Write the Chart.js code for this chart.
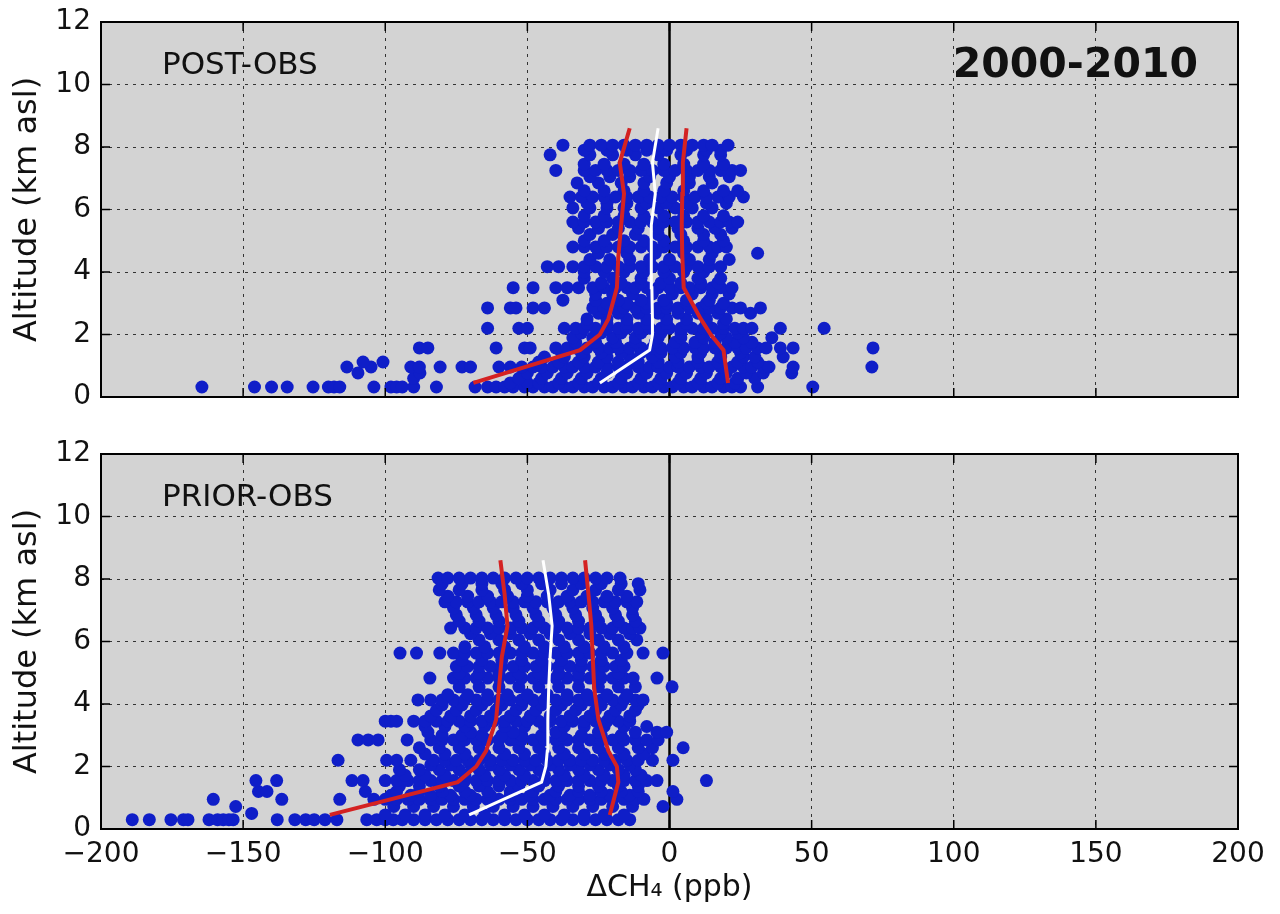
<!DOCTYPE html>
<html>
<head>
<meta charset="utf-8">
<script src="https://cdn.jsdelivr.net/npm/chart.js@4.4.0/dist/chart.umd.min.js"></script>
<style>
  body { margin: 0; background: #fff; }
  #wrap { position: relative; width: 1280px; height: 914px; }
  #wrap canvas { position: absolute; left: 0; }
  #top { top: 0; width: 1280px; height: 420px; }
  #bottom { top: 432px; width: 1280px; height: 482px; }
</style>
</head>
<body>
<div id="wrap">
  <canvas id="top" width="1280" height="420"></canvas>
  <canvas id="bottom" width="1280" height="482"></canvas>
</div>
<script>
// axis ticks
const xTicks = [-200, -150, -100, -50, 0, 50, 100, 150, 200];
const yTicks = [0, 2, 4, 6, 8, 10, 12];

// POST-OBS scatter: one row of x values (ppb) per altitude level (km)
const postLevels = [0.32, 0.45, 0.6, 0.77, 0.96, 1.12, 1.28, 1.42, 1.57, 1.75, 1.9, 2.05, 2.2, 2.35, 2.5, 2.68, 2.85, 3.0, 3.1, 3.3, 3.5, 3.65, 3.8, 4.0, 4.17, 4.4, 4.6, 4.8, 5.0, 5.2, 5.4, 5.6, 5.8, 6.05, 6.2, 6.4, 6.6, 6.85, 7.05, 7.25, 7.45, 7.75, 7.9, 8.06];
const postX = [
  [-164.5, -146, -140, -134.5, -125.4, -120, -118, -116, -104, -98, -96, -94, -90, -82, -68.4, -64, -61, -58, -55, -51, -48, -44, -41, -37, -34, -30, -27, -23, -20, -16, -13, -9, -6, -2, 1, 5, 8, 12, 15, 19, 22, 25, 31, 50.4],
  [-56, -50, -46, -39, -32, -25, -18, -11, -4, 3, 10, 17, 23],
  [-90, -53, -45, -38, -31, -24, -17, -10, -3, 4, 11, 18, 24, 30],
  [-109.6, -87.8, -50, -43, -36, -29, -22, -15, -8, -1, 6, 13, 20, 27, 33, 43],
  [-113.5, -105, -91, -88, -80.7, -73, -70, -60, -56, -52, -48, -45, -41, -37, -34, -30, -26, -22, -18, -15, -11, -7, -4, 0, 3, 7, 11, 14, 18, 22, 26, 29, 33, 35, 43.5, 71.2],
  [-107.8, -100.8, -46, -39, -32, -25, -18, -11, -4, 3, 10, 17, 24, 31],
  [-44, -37, -30, -22, -14, -6, 2, 10, 18, 26, 30, 40],
  [-38, -31, -24, -17, -10, -3, 4, 11, 18, 25],
  [-88, -85, -61, -51, -49, -40, -36, -33, -29, -25, -21, -18, -14, -10, -6, -3, 1, 5, 9, 12, 16, 20, 24, 27, 31, 34, 39, 43.5, 71.6],
  [-33, -26, -19, -12, -5, 2, 9, 16, 23, 29],
  [-34, -27, -20, -12, -4, 4, 12, 20, 26, 36],
  [-31, -24, -17, -10, -3, 4, 11, 18, 24],
  [-64, -53, -50, -37, -33, -30, -26, -22, -18, -15, -11, -7, -3, 0, 4, 8, 12, 15, 19, 23, 26, 29, 39, 54.4],
  [-29, -22, -15, -8, -1, 6, 13, 19],
  [-29, -22, -15, -8, -1, 6, 13, 20],
  [-25, -18, -11, -4, 3, 10, 17, 28.5],
  [-64, -56, -54, -48, -44, -27, -23, -19, -16, -12, -8, -4, -1, 3, 7, 11, 14, 18, 22, 25, 32],
  [-22, -15, -8, -1, 6, 13, 19],
  [-37.5, -26, -18, -10, -2, 6, 14],
  [-26, -20, -13, -6, 1, 8, 15, 21],
  [-55, -48, -40, -36, -32, -27, -23, -19, -15, -12, -8, -4, 0, 4, 7, 11, 15, 18, 22],
  [-24, -17, -10, -3, 4, 11, 17],
  [-30, -20, -10, 0, 10, 18],
  [-30, -23, -16, -9, -2, 5, 12],
  [-43, -39, -34, -30, -26, -22, -18, -14, -10, -6, -2, 2, 6, 10, 14, 18],
  [-28, -21, -14, -7, 0, 7, 14, 21],
  [-25, -15, -5, 5, 15, 31],
  [-34, -30, -26, -22, -18, -14, -10, -6, -2, 2, 6, 10, 14, 17, 20],
  [-30, -23, -16, -9, -2, 5, 12, 19],
  [-28, -20, -12, -4, 4, 12, 18],
  [-32, -25, -18, -11, -4, 3, 10, 16, 22],
  [-34, -30, -26, -22, -18, -14, -10, -6, -2, 2, 6, 10, 14, 18, 21, 24],
  [-30, -23, -16, -9, -2, 5, 12, 19],
  [-34, -28, -22, -16, -10, -4, 2, 8, 15],
  [-29, -22, -15, -8, -1, 6, 13, 20],
  [-35, -31, -27, -23, -19, -15, -11, -7, -3, 1, 5, 9, 13, 17, 21, 26],
  [-30, -23, -16, -9, -2, 5, 12, 19, 24],
  [-32.5, -25, -17, -9, -1, 7, 15],
  [-28, -21, -14, -7, 0, 7, 14, 21],
  [-40, -30, -26, -22, -18, -14, -10, -6, -2, 2, 6, 10, 14, 18, 22, 25],
  [-30, -23, -16, -9, -2, 5, 12, 19],
  [-42, -28, -20, -12, -4, 4, 12, 18],
  [-30, -22, -15, -8, -1, 6, 13, 18],
  [-37.5, -28, -24, -20, -16, -12, -8, -4, 0, 4, 8, 12, 15, 20.6]
];

// PRIOR-OBS scatter
const priorLevels = [0.3, 0.45, 0.5, 0.72, 0.95, 1.08, 1.2, 1.38, 1.55, 1.72, 1.9, 2.05, 2.2, 2.4, 2.6, 2.85, 3.0, 3.1, 3.28, 3.45, 3.62, 3.8, 3.97, 4.13, 4.3, 4.55, 4.83, 4.98, 5.2, 5.4, 5.63, 5.83, 6.05, 6.25, 6.43, 6.65, 6.85, 7.07, 7.27, 7.45, 7.65, 7.85, 8.03];
const priorX = [
  [-189, -183, -175.4, -171, -169.4, -162, -159, -157, -155, -153.5, -138, -131.8, -128, -125, -121.2, -117, -106.5, -103, -100, -97.2, -94, -90, -86, -82, -78, -74, -70, -66, -62, -58, -54, -50, -46, -42, -38, -34, -30, -26, -22, -18, -14],
  [-100, -93, -86, -79, -72, -65, -58, -51, -44, -37, -30, -23, -16],
  [-147],
  [-152.6, -97, -90, -83, -76, -69, -62, -55, -48, -41, -34, -27, -20, -13, -2.3],
  [-160.5, -136.4, -116, -104, -100, -96, -92, -88, -84, -80, -76, -72, -68, -64, -60, -56, -52, -48, -44, -40, -36, -32, -28, -24, -20, -16, -12, -9, 2.6],
  [-98, -91, -84, -77, -70, -63, -56, -49, -42, -35, -28, -21, -14],
  [-144.6, -141.6, -107, -96, -88, -80, -72, -64, -56, -48, -40, -32, -24, -17, -11, 1.2],
  [-95, -88, -81, -74, -67, -60, -53, -46, -39, -32, -25, -18, -11],
  [-145.5, -138.2, -111.7, -107.8, -100, -96, -92, -88, -84, -80, -76, -72, -68, -64, -60, -56, -52, -48, -44, -40, -36, -32, -28, -24, -20, -16, -12, -8, -4.4, 13],
  [-93, -86, -79, -72, -65, -58, -51, -44, -37, -30, -23, -16, -10],
  [-95, -88, -81, -74, -67, -60, -53, -46, -39, -32, -25, -18, -12],
  [-84, -77, -70, -63, -56, -49, -42, -35, -28, -21, -14],
  [-116.6, -99.5, -96, -91, -83, -79, -75, -71, -67, -63, -59, -55, -51, -47, -43, -39, -35, -31, -27, -23, -19, -15, -11, -6, 1.2],
  [-86, -79, -72, -65, -58, -51, -44, -37, -30, -23, -16, -9],
  [-88, -81, -74, -67, -60, -53, -46, -39, -32, -25, -18, -11, -6, 4.8],
  [-109.6, -106, -102.5, -92.3, -84, -80, -76, -72, -68, -64, -60, -56, -52, -48, -44, -40, -36, -32, -28, -24, -20, -16, -12, -8, -4],
  [-80, -73, -66, -59, -52, -45, -38, -31, -24, -17],
  [-85, -70, -55, -40, -25, -12, -4.4, -1],
  [-86, -79, -72, -65, -58, -51, -44, -37, -30, -23, -16, -8],
  [-100, -98, -96, -90, -86, -82, -78, -74, -70, -66, -62, -58, -54, -50, -46, -42, -38, -34, -30, -26, -22, -18, -14],
  [-84, -77, -70, -63, -56, -49, -42, -35, -28, -21, -14],
  [-82, -75, -68, -61, -54, -47, -40, -33, -26, -19, -12],
  [-80, -73, -66, -59, -52, -45, -38, -31, -24, -17, -11],
  [-88.5, -84, -80, -76, -72, -68, -64, -60, -56, -52, -48, -44, -40, -36, -32, -28, -24, -20, -16, -12, -9.3],
  [-78, -71, -64, -57, -50, -43, -36, -29, -22, -15],
  [-74, -67, -60, -53, -46, -39, -32, -25, -18, -12, 0.9],
  [-84.3, -76, -72, -68, -64, -60, -56, -52, -48, -44, -40, -36, -32, -28, -24, -20, -16, -12.8, -4.4],
  [-74, -67, -60, -53, -46, -39, -32, -25, -18],
  [-75, -71, -67, -63, -59, -55, -51, -47, -43, -39, -35, -31, -27, -23, -19, -16],
  [-73, -66, -59, -52, -45, -38, -31, -24, -17],
  [-94.8, -89, -80.8, -76, -72, -68, -64, -60, -56, -52, -48, -44, -40, -36, -32, -28, -24, -20, -15, -9.3, -2.3],
  [-72, -65, -58, -51, -44, -37, -30, -23, -16],
  [-67, -60, -53, -46, -39, -32, -25, -18, -11.5],
  [-70, -63, -56, -49, -42, -35, -28, -21, -14],
  [-77, -72, -68, -64, -60, -56, -52, -48, -44, -40, -36, -32, -28, -24, -20, -16, -13, -10.4],
  [-74, -67, -60, -53, -46, -39, -32, -25, -18, -12],
  [-75, -68, -61, -54, -47, -40, -33, -26, -19, -13],
  [-76, -69, -62, -55, -48, -41, -34, -27, -20, -13],
  [-79, -75, -71, -67, -63, -59, -55, -51, -47, -43, -39, -35, -31, -27, -23, -19, -15, -11.5],
  [-78, -71, -64, -57, -50, -43, -36, -29, -22, -15],
  [-81, -74, -66, -58, -50, -42, -34, -26, -18, -10.4],
  [-80, -73, -66, -59, -52, -45, -38, -31, -24, -17, -11],
  [-81.4, -78, -74, -70, -66, -62, -58, -54, -50, -46, -42, -38, -34, -30, -26, -22, -17.4]
];

// profile lines (red = spread, white = median)
const lineAlt = [0.45, 1.5, 2.0, 2.5, 3.5, 4.5, 5.5, 6.5, 7.5, 8.6];
const postLow = [-69, -31.5, -24.5, -21.5, -18.5, -18, -17, -16, -17.5, -14];
const postMed = [-24.5, -7, -6, -6, -6.2, -6.3, -6.5, -5, -6, -4];
const postHigh = [20.6, 19, 14.5, 11, 5, 4.5, 4.3, 4.5, 4.7, 6];
const priorLow = [-119.5, -74.5, -68, -64.5, -61, -60, -59, -57, -58, -59.5];
const priorMed = [-70.5, -45, -43.5, -43, -42.8, -42.5, -42, -41.3, -42.5, -44.5];
const priorHigh = [-21, -18, -18.5, -21.5, -25, -26.5, -27, -27.5, -28.5, -29.7];

// zero reference line
const zeroX = 0;
const zeroSpan = [0, 12];

const FONT = 'DejaVu Sans';

function rowsToPoints(levels, rows) {
  const pts = [];
  levels.forEach((alt, i) => rows[i].forEach(v => pts.push({ x: v, y: alt })));
  return pts;
}

function profile(xs) {
  return lineAlt.map((alt, i) => ({ x: xs[i], y: alt }));
}

function fmtTick(v) {
  return v < 0 ? '\u2212' + Math.abs(v) : String(v);
}

// grey plot area, inward ticks, frame and panel labels
const panelBox = {
  id: 'panelBox',
  beforeDraw(chart, args, opts) {
    const { ctx, chartArea: a } = chart;
    ctx.save();
    ctx.fillStyle = '#d3d3d3';
    ctx.fillRect(a.left, a.top, a.right - a.left, a.bottom - a.top);
    ctx.restore();
  },
  afterDraw(chart, args, opts) {
    const { ctx, chartArea: a, scales } = chart;
    ctx.save();
    ctx.strokeStyle = '#000';
    ctx.lineWidth = 1.5;
    ctx.beginPath();
    xTicks.forEach(v => {
      const px = scales.x.getPixelForValue(v);
      ctx.moveTo(px, a.top); ctx.lineTo(px, a.top + 9);
      ctx.moveTo(px, a.bottom); ctx.lineTo(px, a.bottom - 9);
    });
    yTicks.forEach(v => {
      const py = scales.y.getPixelForValue(v);
      ctx.moveTo(a.left, py); ctx.lineTo(a.left + 9, py);
      ctx.moveTo(a.right, py); ctx.lineTo(a.right - 9, py);
    });
    ctx.stroke();
    ctx.lineWidth = 2;
    ctx.strokeRect(a.left, a.top, a.right - a.left, a.bottom - a.top);

    ctx.fillStyle = '#111';
    ctx.textBaseline = 'middle';
    ctx.textAlign = 'left';
    ctx.font = '31px "' + FONT + '"';
    ctx.fillText(opts.label, a.left + 61, a.top + 44);
    if (opts.period) {
      ctx.font = 'bold 41px "' + FONT + '"';
      ctx.textAlign = 'right';
      ctx.fillText(opts.period, a.right - 40, a.top + 44);
    }
    ctx.restore();
  }
};

function makeDatasets(rowsPts, low, med, high) {
  const lineBase = { showLine: true, pointRadius: 0, fill: false, tension: 0 };
  return [
    Object.assign({ data: profile(low), borderColor: '#d42222', borderWidth: 4, order: 0 }, lineBase),
    Object.assign({ data: profile(med), borderColor: '#ffffff', borderWidth: 3, order: 0 }, lineBase),
    Object.assign({ data: profile(high), borderColor: '#d42222', borderWidth: 4, order: 0 }, lineBase),
    {
      data: rowsPts,
      backgroundColor: '#0f1ec8',
      borderWidth: 0,
      pointRadius: 6.5,
      order: 1
    },
    Object.assign({
      data: zeroSpan.map(y => ({ x: zeroX, y: y })),
      borderColor: '#000',
      borderWidth: 2.5,
      order: 2
    }, lineBase)
  ];
}

function makeChart(id, opts) {
  const gridOpts = { color: '#333', lineWidth: 1, drawTicks: false };
  const borderOpts = { display: false, dash: [3, 5] };
  return new Chart(document.getElementById(id), {
    type: 'scatter',
    data: { datasets: opts.datasets },
    options: {
      responsive: false,
      animation: false,
      devicePixelRatio: 1,
      layout: { padding: { top: 22, right: 42, bottom: 0, left: 0 } },
      plugins: {
        legend: { display: false },
        tooltip: { enabled: false },
        panelBox: { label: opts.label, period: opts.period }
      },
      scales: {
        x: {
          type: 'linear',
          min: -200,
          max: 200,
          afterBuildTicks: s => { s.ticks = xTicks.map(v => ({ value: v })); },
          ticks: {
            display: opts.showX,
            font: { family: FONT, size: 28 },
            color: '#111',
            padding: 9,
            maxRotation: 0,
            callback: fmtTick
          },
          title: {
            display: opts.showX,
            text: '\u0394CH\u2084 (ppb)',
            font: { family: FONT, size: 30 },
            color: '#111',
            padding: { top: 0, bottom: 8 }
          },
          grid: gridOpts,
          border: borderOpts,
          afterFit: s => {
            s.height = opts.xHeight;
            s.paddingLeft = 0;
            s.paddingRight = 0;
          }
        },
        y: {
          type: 'linear',
          min: 0,
          max: 12,
          afterBuildTicks: s => { s.ticks = yTicks.map(v => ({ value: v })); },
          ticks: {
            font: { family: FONT, size: 28 },
            color: '#111',
            padding: 10,
            callback: fmtTick
          },
          title: {
            display: true,
            text: 'Altitude (km asl)',
            font: { family: FONT, size: 32 },
            color: '#111',
            padding: { top: 8, bottom: 0 }
          },
          grid: gridOpts,
          border: borderOpts,
          afterFit: s => {
            s.width = 101;
            s.paddingTop = 0;
            s.paddingBottom = 0;
          }
        }
      }
    },
    plugins: [panelBox]
  });
}

makeChart('top', {
  datasets: makeDatasets(rowsToPoints(postLevels, postX), postLow, postMed, postHigh),
  label: 'POST-OBS',
  period: '2000-2010',
  showX: false,
  xHeight: 23
});

makeChart('bottom', {
  datasets: makeDatasets(rowsToPoints(priorLevels, priorX), priorLow, priorMed, priorHigh),
  label: 'PRIOR-OBS',
  period: '',
  showX: true,
  xHeight: 85
});
</script>
</body>
</html>
